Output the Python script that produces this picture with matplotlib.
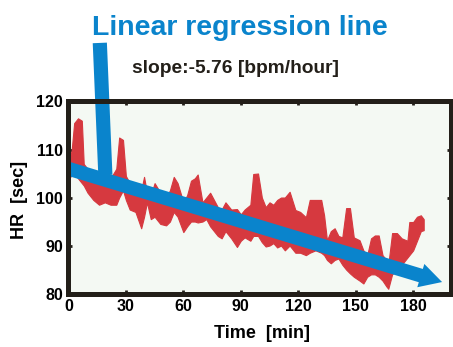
import matplotlib
matplotlib.use('Agg')
import matplotlib.pyplot as plt
import numpy as np

# HR envelope (time in min, upper / lower edge of the red band)
time_min = [0, 1.5, 3, 5, 7, 8, 10, 13, 16, 19, 22, 25, 26.5, 28.5, 30, 32, 35, 38,
            39.5, 41, 43, 45, 48, 51, 53, 55, 57, 60, 62, 64, 66, 67.5, 70, 72, 74, 76,
            78, 80, 82, 85, 88, 90, 92, 95, 96.5, 99, 101, 103, 105, 107, 109, 111, 113,
            115.5, 118.5, 121, 124, 126, 129, 132, 133.5, 135, 137, 139, 141, 143, 145,
            147, 149, 152, 154, 156, 158, 160, 162, 164, 166, 167, 169, 171.5, 174, 177,
            178, 180, 182, 184, 185.5]
hr_upper = [110.5, 109, 115.5, 116.5, 116, 107, 106, 105, 104.5, 105, 104, 106, 112.5,
            112, 104.5, 103, 102, 101.5, 104.3, 101, 100.5, 103, 101, 100, 101.5, 104.3,
            103, 99, 100.5, 103.5, 104, 104.8, 99, 100, 101, 99.5, 98, 97.5, 99, 97.5,
            97.6, 96.5, 97.5, 98.5, 104.9, 105, 100, 98, 99, 98.5, 99.5, 100, 100, 101.2,
            97.4, 97, 95.9, 99.5, 99.5, 99.5, 96.3, 91.1, 93, 93.6, 92, 91.7, 97.8, 97.8,
            91.7, 91.1, 89, 88, 91.5, 92.1, 92.1, 88, 87, 86, 92.6, 92.6, 91.5, 91, 94.9,
            94.9, 96, 96.3, 95.5]
hr_lower = [104, 104.5, 105, 104, 103, 102.5, 101, 99.5, 98.5, 99, 98.5, 98.5, 100,
            101.5, 99.5, 97.5, 97, 93.6, 96, 99, 95.5, 96, 94.5, 94.2, 95, 97, 96, 92.8,
            94, 95, 95, 94.8, 95, 95.5, 94, 93, 92, 91.5, 93, 91.5, 89.7, 91, 91.7, 91,
            92, 92, 90.7, 89.8, 90, 90.5, 89.6, 90, 89, 90, 88.5, 88.5, 88, 88.5, 89,
            88.5, 88, 87, 86.3, 87, 87.3, 86, 85, 84.2, 83.5, 82.7, 82.1, 83.5, 84, 84,
            83.5, 82.7, 81.5, 81, 84, 85, 86, 87.5, 88, 89, 91, 93, 93.2]

# regression arrow (start / tip) and the pointer from the label
reg_start = (0, 106.0)
reg_tip = (195.1, 82.4)
pointer_top = (16.4, 132.2)
pointer_end = (19.3, 104.7)

x_ticks = [0, 30, 60, 90, 120, 150, 180]
y_ticks = [80, 90, 100, 110, 120]

red = '#d6393f'
blue = '#0a84cc'
frame = '#231f19'

plt.rcParams['font.family'] = ['Liberation Sans', 'DejaVu Sans']
plt.rcParams['font.weight'] = 'bold'

fig = plt.figure(figsize=(4.53, 3.47), dpi=100)
ax = fig.add_axes([0.151, 0.154, 0.8435, 0.5535])
ax.set_facecolor('#f4f9f3')

ax.fill_between(time_min, hr_lower, hr_upper, color=red, linewidth=0.8, edgecolor=red, zorder=2)

ax.annotate('', xy=reg_tip, xytext=reg_start,
            arrowprops=dict(arrowstyle='simple,head_length=1.6,head_width=1.75,tail_width=1.0',
                            mutation_scale=10, color=blue, shrinkA=0, shrinkB=0, linewidth=0),
            annotation_clip=False, zorder=4)
ax.plot([pointer_top[0], pointer_end[0]], [pointer_top[1], pointer_end[1]], color=blue,
        linewidth=10.2, solid_capstyle='butt', clip_on=False, zorder=4)

ax.set_xlim(0, 199.5)
ax.set_ylim(80, 120)
ax.set_xticks(x_ticks)
ax.set_yticks(y_ticks)
ax.tick_params(direction='in', length=3, width=2, color=frame, top=True, right=True,
               labelsize=11.5, pad=4)
for lab in ax.get_xticklabels() + ax.get_yticklabels():
    lab.set_fontweight('bold')
for s in ax.spines.values():
    s.set_linewidth(3.6)
    s.set_color(frame)
    s.set_zorder(5)

ax.set_xlabel('Time  [min]', fontsize=13, fontweight='bold', va='center')
ax.xaxis.set_label_coords(0.507, -0.206)
ax.set_ylabel('HR  [sec]', fontsize=13, fontweight='bold', va='center')
ax.yaxis.set_label_coords(-0.127, 0.49)

fig.text(0.203, 0.899, 'Linear regression line', color=blue, fontsize=20.5,
         fontweight='bold', ha='left', va='baseline')
fig.text(0.291, 0.790, 'slope:-5.76 [bpm/hour]', color=frame, fontsize=13.8,
         fontweight='bold', ha='left', va='baseline')

fig.savefig('out.png', dpi=100)
